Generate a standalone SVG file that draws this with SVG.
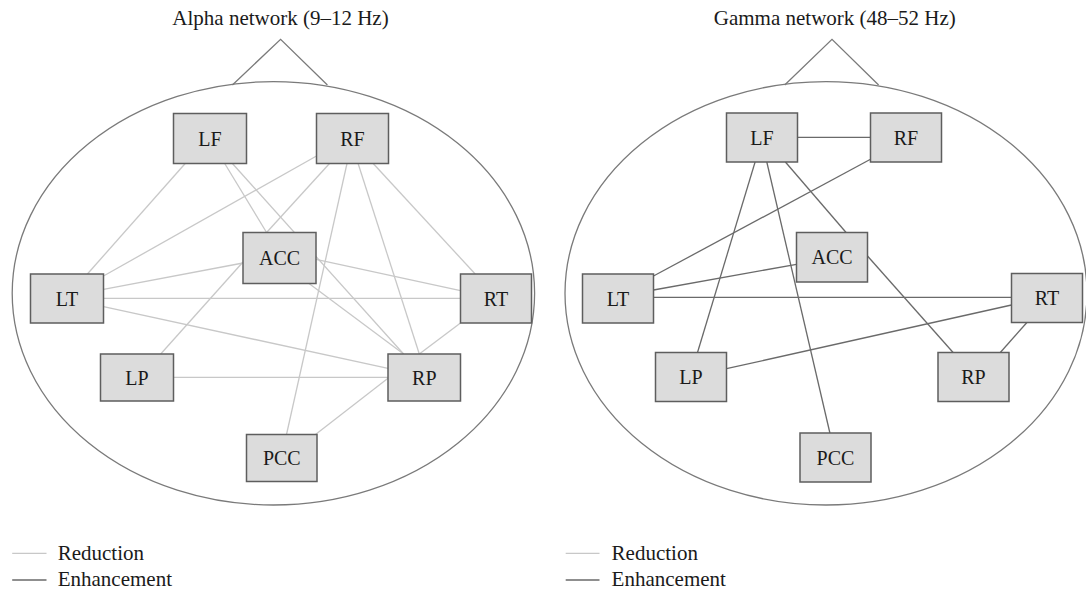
<svg xmlns="http://www.w3.org/2000/svg" width="1086" height="593" viewBox="0 0 1086 593">
<style>
text{font-family:"Liberation Serif","Times New Roman",serif;fill:#1a1a1a}
.title{font-size:21px;text-anchor:middle}
.lbl{font-size:20px;text-anchor:middle}
.leg{font-size:21px}
.box{fill:#dcdcdc;stroke:#5e5e5e;stroke-width:1.5}
.head{fill:none;stroke:#7a7a7a;stroke-width:1.3}
.red{stroke:#c8c8c8;stroke-width:1.3;fill:none}
.enh{stroke:#6a6a6a;stroke-width:1.3;fill:none}
</style>
<rect width="1086" height="593" fill="#ffffff"/>
<g id="alpha-head">
<text class="title" x="280.5" y="25">Alpha network (9–12 Hz)</text>
<polyline class="head" points="232.4,85 280.6,39.3 327.4,85"/>
<ellipse class="head" cx="273.4" cy="293.3" rx="261.2" ry="211.7"/>
</g>
<g id="gamma-head">
<text class="title" x="834.8" y="25">Gamma network (48–52 Hz)</text>
<polyline class="head" points="784.7,85 832,39.3 878.6,85"/>
<ellipse class="head" cx="826" cy="293.3" rx="261" ry="211.7"/>
</g>
<g id="connectors">
<line class="red" x1="185.2" y1="163.5" x2="87.4" y2="274"/>
<line class="red" x1="224.7" y1="163.5" x2="266.6" y2="232.5"/>
<line class="red" x1="232.4" y1="163.5" x2="403.6" y2="354"/>
<line class="red" x1="316.5" y1="156" x2="103.5" y2="276"/>
<line class="red" x1="329.5" y1="163.5" x2="266.6" y2="232.5"/>
<line class="red" x1="347" y1="163.5" x2="286.5" y2="434.5"/>
<line class="red" x1="358.1" y1="163.5" x2="419.3" y2="354"/>
<line class="red" x1="373.2" y1="163.5" x2="475.2" y2="274"/>
<line class="red" x1="243" y1="263" x2="103.5" y2="289.3"/>
<line class="red" x1="243" y1="262" x2="160.7" y2="354"/>
<line class="red" x1="316" y1="259.3" x2="460.5" y2="290.7"/>
<line class="red" x1="309" y1="283.5" x2="403.6" y2="354"/>
<line class="red" x1="103.5" y1="298.3" x2="460.5" y2="298.3"/>
<line class="red" x1="103.5" y1="306.7" x2="388" y2="368.3"/>
<line class="red" x1="173.5" y1="377.3" x2="388" y2="377.3"/>
<line class="red" x1="315.5" y1="434.5" x2="388" y2="378.3"/>
<line class="red" x1="460.5" y1="323" x2="419.3" y2="354"/>
<line class="enh" x1="797.5" y1="137.3" x2="870.5" y2="137.3"/>
<line class="enh" x1="870.5" y1="159.3" x2="653.5" y2="276"/>
<line class="enh" x1="755.1" y1="162" x2="697.5" y2="352.5"/>
<line class="enh" x1="766.8" y1="162" x2="829.9" y2="433"/>
<line class="enh" x1="785.4" y1="162" x2="846.1" y2="232.5"/>
<line class="enh" x1="796.5" y1="264.3" x2="653.5" y2="290"/>
<line class="enh" x1="653.5" y1="297.3" x2="1011.5" y2="297.3"/>
<line class="enh" x1="867.5" y1="256" x2="953.1" y2="352.5"/>
<line class="enh" x1="1011.5" y1="305" x2="726.5" y2="368.7"/>
<line class="enh" x1="1026.9" y1="322.5" x2="1000.3" y2="352.5"/>
</g>
<g id="a-LF"><rect class="box" x="173.5" y="113.5" width="73" height="50"/><text class="lbl" x="210" y="145.5">LF</text></g>
<g id="a-RF"><rect class="box" x="316.5" y="113.5" width="72" height="50"/><text class="lbl" x="352.5" y="145.5">RF</text></g>
<g id="a-ACC"><rect class="box" x="243" y="232.5" width="73" height="51"/><text class="lbl" x="279.5" y="265">ACC</text></g>
<g id="a-LT"><rect class="box" x="30.5" y="274" width="73" height="49"/><text class="lbl" x="67" y="305.5">LT</text></g>
<g id="a-RT"><rect class="box" x="460.5" y="274" width="71" height="49"/><text class="lbl" x="496" y="305.5">RT</text></g>
<g id="a-LP"><rect class="box" x="100.5" y="354" width="73" height="47"/><text class="lbl" x="137" y="384.5">LP</text></g>
<g id="a-RP"><rect class="box" x="388" y="354" width="72.5" height="47"/><text class="lbl" x="424.3" y="384.5">RP</text></g>
<g id="a-PCC"><rect class="box" x="246.5" y="434.5" width="70.5" height="47"/><text class="lbl" x="281.8" y="465">PCC</text></g>
<g id="g-LF"><rect class="box" x="726.5" y="113" width="71" height="49"/><text class="lbl" x="762" y="144.5">LF</text></g>
<g id="g-RF"><rect class="box" x="870.5" y="113" width="71" height="49"/><text class="lbl" x="906" y="144.5">RF</text></g>
<g id="g-ACC"><rect class="box" x="796.5" y="232.5" width="71" height="49.5"/><text class="lbl" x="832" y="264.3">ACC</text></g>
<g id="g-LT"><rect class="box" x="582.5" y="274" width="71" height="49"/><text class="lbl" x="618" y="305.5">LT</text></g>
<g id="g-RT"><rect class="box" x="1011.5" y="273.5" width="71" height="49"/><text class="lbl" x="1047" y="305">RT</text></g>
<g id="g-LP"><rect class="box" x="655.5" y="352.5" width="71" height="49"/><text class="lbl" x="691" y="384">LP</text></g>
<g id="g-RP"><rect class="box" x="938" y="352.5" width="71" height="49"/><text class="lbl" x="973.5" y="384">RP</text></g>
<g id="g-PCC"><rect class="box" x="800" y="433" width="71" height="49"/><text class="lbl" x="835.5" y="464.5">PCC</text></g>
<g id="legend-left">
<line class="red" x1="12.2" y1="553.3" x2="46.5" y2="553.3"/>
<text class="leg" x="57.7" y="559.5">Reduction</text>
<line class="enh" x1="12.2" y1="580" x2="46.5" y2="580"/>
<text class="leg" x="57.7" y="585.5">Enhancement</text>
</g>
<g id="legend-right">
<line class="red" x1="565.7" y1="553.3" x2="599.5" y2="553.3"/>
<text class="leg" x="611.6" y="559.5">Reduction</text>
<line class="enh" x1="565.7" y1="580" x2="599.5" y2="580"/>
<text class="leg" x="611.6" y="585.5">Enhancement</text>
</g>
</svg>
